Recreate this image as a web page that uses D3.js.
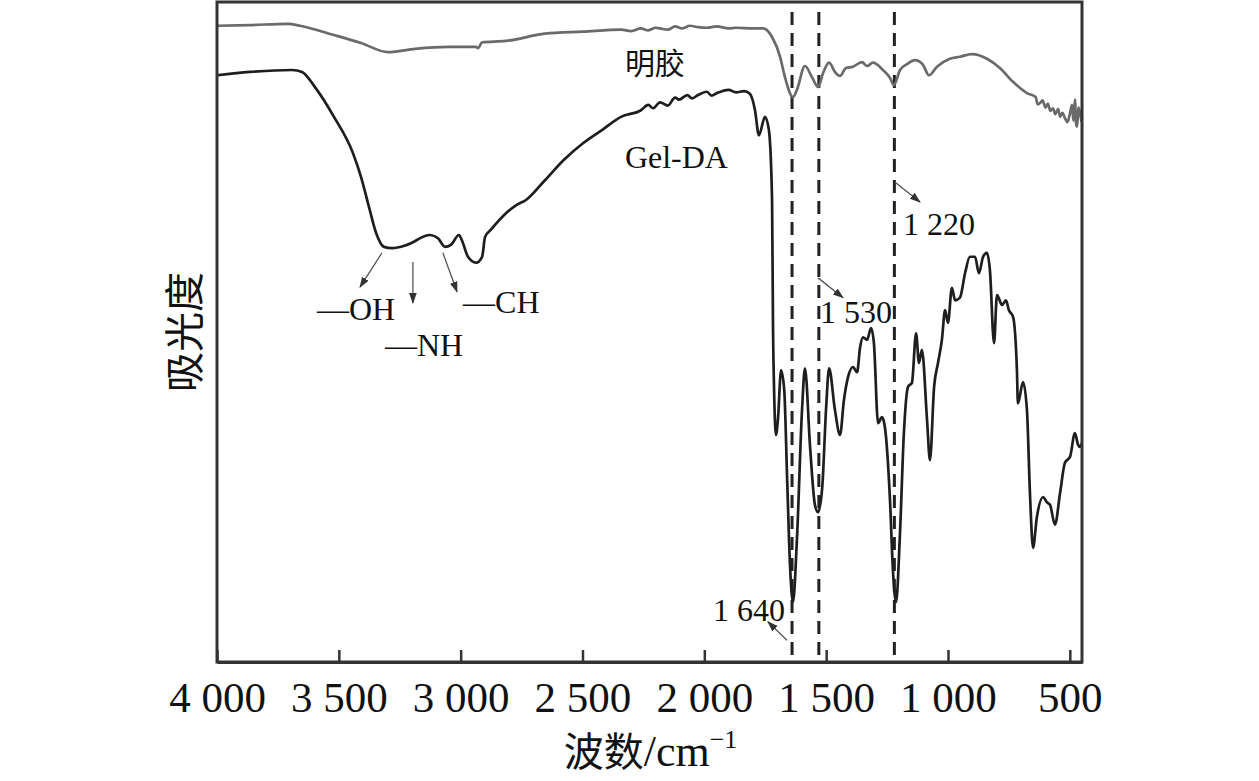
<!DOCTYPE html>
<html>
  <head>
    <meta charset="utf-8" />
    <script src="https://cdn.jsdelivr.net/npm/d3@7/dist/d3.min.js"></script>
    <style>
        body { margin: 0; background: #fff; }
        svg { display: block; }
        .serif { font-family: "Liberation Serif", "Times New Roman", serif; }
        .cjk { font-family: "Noto Sans CJK SC", sans-serif; }
    </style>
  </head>
  <body>
    <svg width="1259" height="781"></svg>

    <script type="text/javascript">
        // wavenumber (cm-1), absorbance (arb. units, 0-100)
        var gelatin = [
            [4000, 96.4], [3865, 96.5], [3709, 96.7], [3659, 96.4], [3520, 95.0],
            [3409, 93.8], [3298, 92.4], [3187, 92.9], [3048, 93.2], [2937, 93.2],
            [2929, 93.0], [2912, 93.9], [2814, 94.1], [2654, 95.2], [2498, 95.5],
            [2342, 95.8], [2300, 95.6], [2260, 96.0], [2230, 95.7], [2200, 96.1],
            [2182, 96.0], [2150, 95.8], [2120, 96.3], [2090, 96.0], [2060, 96.4],
            [2026, 96.2], [1990, 96.1], [1950, 96.3], [1900, 96.0], [1870, 96.1],
            [1800, 96.0], [1759, 96.0], [1722, 94.7], [1689, 91.7], [1669, 88.6], [1636, 85.6],
            [1620, 86.7], [1587, 90.3], [1558, 88.6], [1533, 87.1], [1513, 89.2],
            [1488, 90.8], [1464, 89.4], [1443, 88.8], [1419, 90.0], [1390, 90.2],
            [1353, 90.9], [1332, 90.3], [1308, 90.8], [1267, 89.7], [1238, 88.5],
            [1222, 87.4], [1197, 89.7], [1168, 90.6], [1135, 91.2], [1103, 90.5],
            [1078, 88.9], [1045, 90.2], [992, 91.4], [951, 91.7], [901, 92.1],
            [840, 91.4], [787, 90.0], [733, 87.9], [676, 86.2], [640, 85.6],
            [632, 84.5], [622, 84.7], [612, 85.1], [600, 84.0], [590, 84.6],
            [580, 83.5], [569, 83.9], [560, 83.0], [548, 83.8], [540, 82.6],
            [530, 83.2], [520, 82.4], [510, 81.8], [500, 83.0], [491, 84.4],
            [485, 82.0], [479, 85.2], [474, 81.5], [470, 81.1], [465, 84.0],
            [458, 83.3], [452, 81.9], [450, 82.6]
        ];

        var gelDA = [
            [4000, 88.9], [3865, 89.4], [3692, 89.7], [3651, 89.4], [3598, 87.1],
            [3520, 82.6], [3442, 77.1], [3409, 73.5], [3376, 68.9], [3347, 65.0],
            [3315, 62.9], [3282, 62.7], [3220, 63.2], [3126, 64.7], [3093, 64.2],
            [3064, 62.9], [3040, 63.2], [3007, 64.7], [2995, 63.9], [2970, 61.4],
            [2937, 60.5], [2912, 61.4], [2900, 64.4], [2876, 65.5], [2814, 68.0],
            [2773, 69.2], [2732, 70.0], [2654, 73.0], [2576, 76.1], [2498, 78.6],
            [2420, 80.6], [2342, 82.6], [2260, 83.6], [2230, 84.4], [2210, 83.9],
            [2182, 84.8], [2150, 84.3], [2120, 85.5], [2104, 85.2], [2070, 85.9],
            [2050, 85.4], [2026, 85.9], [1990, 86.4], [1970, 85.8], [1948, 86.2],
            [1900, 86.7], [1870, 86.3], [1837, 86.5], [1813, 86.1], [1792, 83.6],
            [1776, 79.8], [1751, 82.6], [1735, 80.6], [1722, 70.0], [1718, 50.3],
            [1714, 41.7], [1706, 34.4], [1698, 36.7], [1685, 44.2], [1672, 41.2],
            [1660, 27.6], [1648, 14.4], [1636, 9.1], [1620, 18.5], [1599, 38.2],
            [1587, 44.5], [1566, 32.6], [1546, 23.8], [1533, 22.7], [1516, 26.5],
            [1500, 38.6], [1488, 44.5], [1464, 38.2], [1443, 34.4], [1427, 39.7],
            [1410, 43.2], [1390, 44.7], [1373, 43.9], [1361, 47.6], [1349, 49.2],
            [1332, 48.8], [1316, 50.6], [1304, 48.3], [1287, 36.2], [1271, 37.1],
            [1259, 35.6], [1238, 24.5], [1226, 13.9], [1213, 9.1], [1197, 19.5],
            [1181, 34.7], [1164, 41.7], [1148, 42.3], [1131, 49.8], [1119, 45.3],
            [1107, 47.3], [1086, 36.7], [1074, 30.6], [1057, 41.7], [1041, 45.3],
            [1025, 48.8], [1012, 53.3], [1000, 51.4], [984, 56.7], [971, 54.8],
            [951, 55.2], [930, 58.9], [910, 61.4], [889, 61.4], [873, 58.9],
            [856, 61.4], [840, 62.0], [828, 59.4], [811, 48.3], [799, 55.6],
            [778, 54.1], [762, 54.8], [750, 53.3], [733, 52.3], [717, 44.2],
            [713, 39.2], [692, 42.4], [676, 38.2], [663, 25.0], [651, 17.3],
            [635, 22.0], [610, 25.0], [594, 24.2], [581, 23.8], [561, 20.8],
            [540, 25.6], [520, 30.2], [499, 31.1], [479, 34.7], [466, 32.9],
            [458, 32.6], [450, 33.2]
        ];

        var tickValues = [4000, 3500, 3000, 2500, 2000, 1500, 1000, 500];
        var tickLabels = ["4 000", "3 500", "3 000", "2 500", "2 000", "1 500", "1 000", "500"];
        var markedPeaks = [1640, 1530, 1220];

        // text labels: [text, wavenumber, absorbance]
        var curveLabels = [["明胶", 2326, 89.1], ["Gel-DA", 2326, 74.8]];
        var groupLabels = [["—OH", 3590, 51.8], ["—NH", 3311, 46.4], ["—CH", 2990, 52.9],
                           ["1 220", 1185, 64.7], ["1 530", 1525, 51.4], ["1 640", 1964, 6.2]];
        // arrows: [from wn, from abs, to wn, to abs]
        var arrows = [
            [3323, 62.0, 3413, 56.8],
            [3196, 60.6, 3196, 54.4],
            [3073, 62.0, 3015, 56.1],
            [1217, 72.7, 1115, 69.7],
            [1533, 58.2, 1431, 55.2],
            [1661, 3.3, 1739, 6.1]
        ];

        var margin = {top: 2, right: 177, bottom: 119, left: 217};
        var W = 1259, H = 781;
        var w = W - margin.left - margin.right;
        var h = H - margin.top - margin.bottom;

        var svg = d3.select("svg");
        var g = svg.append("g")
            .attr("transform", "translate(" + margin.left + "," + margin.top + ")");

        var x = d3.scaleLinear().domain([4000, 450]).range([0, w]);
        var y = d3.scaleLinear().domain([0, 100]).range([h, 0]);

        svg.append("defs").append("marker")
            .attr("id", "arrow")
            .attr("viewBox", "0 0 10 10")
            .attr("refX", 9)
            .attr("refY", 5)
            .attr("markerWidth", 11)
            .attr("markerHeight", 11)
            .attr("markerUnits", "userSpaceOnUse")
            .attr("orient", "auto")
            .append("path")
            .attr("d", "M0,1.5 L10,5 L0,8.5 Z")
            .attr("fill", "#333");

        // dashed marker lines
        g.selectAll("line.peak")
            .data(markedPeaks)
            .enter()
            .append("line")
            .attr("class", "peak")
            .attr("x1", function(d) { return x(d); })
            .attr("x2", function(d) { return x(d); })
            .attr("y1", y(98.5))
            .attr("y2", y(0))
            .attr("stroke", "#222")
            .attr("stroke-width", 3)
            .attr("stroke-dasharray", "13,8");

        var line = d3.line()
            .curve(d3.curveMonotoneX)
            .x(function(d) { return x(d[0]); })
            .y(function(d) { return y(d[1]); });

        g.append("path")
            .datum(gelatin)
            .attr("d", line)
            .attr("fill", "none")
            .attr("stroke", "#6a6a6a")
            .attr("stroke-width", 2.7)
            .attr("stroke-linejoin", "round");

        g.append("path")
            .datum(gelDA)
            .attr("d", line)
            .attr("fill", "none")
            .attr("stroke", "#1e1e1e")
            .attr("stroke-width", 2.7)
            .attr("stroke-linejoin", "round");

        // frame
        g.append("rect")
            .attr("x", 0)
            .attr("y", 0)
            .attr("width", w)
            .attr("height", h)
            .attr("fill", "none")
            .attr("stroke", "#333")
            .attr("stroke-width", 3);

        var xAxis = d3.axisBottom(x)
            .tickValues(tickValues)
            .tickFormat(function(d, i) { return tickLabels[i]; })
            .tickSizeInner(-12)
            .tickSizeOuter(0)
            .tickPadding(19);

        var ax = g.append("g")
            .attr("transform", "translate(0," + h + ")")
            .call(xAxis);
        ax.select(".domain").attr("stroke", "#333").attr("stroke-width", 3);
        ax.selectAll(".tick line").attr("stroke", "#333").attr("stroke-width", 2.5);
        ax.selectAll(".tick text")
            .attr("class", "serif")
            .attr("font-size", 43)
            .attr("fill", "#111");

        // arrows
        g.selectAll("line.arrow")
            .data(arrows)
            .enter()
            .append("line")
            .attr("class", "arrow")
            .attr("x1", function(d) { return x(d[0]); })
            .attr("y1", function(d) { return y(d[1]); })
            .attr("x2", function(d) { return x(d[2]); })
            .attr("y2", function(d) { return y(d[3]); })
            .attr("stroke", "#555")
            .attr("stroke-width", 1.3)
            .attr("marker-end", "url(#arrow)");

        g.selectAll("text.group")
            .data(groupLabels)
            .enter()
            .append("text")
            .attr("class", "serif")
            .attr("x", function(d) { return x(d[1]); })
            .attr("y", function(d) { return y(d[2]); })
            .attr("font-size", 32)
            .attr("fill", "#111")
            .text(function(d) { return d[0]; });

        g.selectAll("text.curve")
            .data(curveLabels)
            .enter()
            .append("text")
            .attr("class", function(d, i) { return i == 0 ? "cjk" : "serif"; })
            .attr("x", function(d) { return x(d[1]); })
            .attr("y", function(d) { return y(d[2]); })
            .attr("font-size", function(d, i) { return i == 0 ? 30 : 32; })
            .attr("fill", "#111")
            .text(function(d) { return d[0]; });

        // axis titles
        var xt = svg.append("text")
            .attr("x", margin.left + w / 2 + 1)
            .attr("y", 766)
            .attr("text-anchor", "middle")
            .attr("fill", "#111");
        xt.append("tspan").attr("class", "cjk").attr("font-size", 40).text("波数");
        xt.append("tspan").attr("class", "serif").attr("font-size", 44).text("/cm");
        xt.append("tspan").attr("class", "serif").attr("font-size", 26)
            .attr("dy", -18).text("−1");

        svg.append("text")
            .attr("class", "cjk")
            .attr("transform", "translate(182,332) rotate(-90)")
            .attr("text-anchor", "middle")
            .attr("dominant-baseline", "central")
            .attr("font-size", 40)
            .attr("fill", "#111")
            .text("吸光度");
    </script>
  </body>
</html>
